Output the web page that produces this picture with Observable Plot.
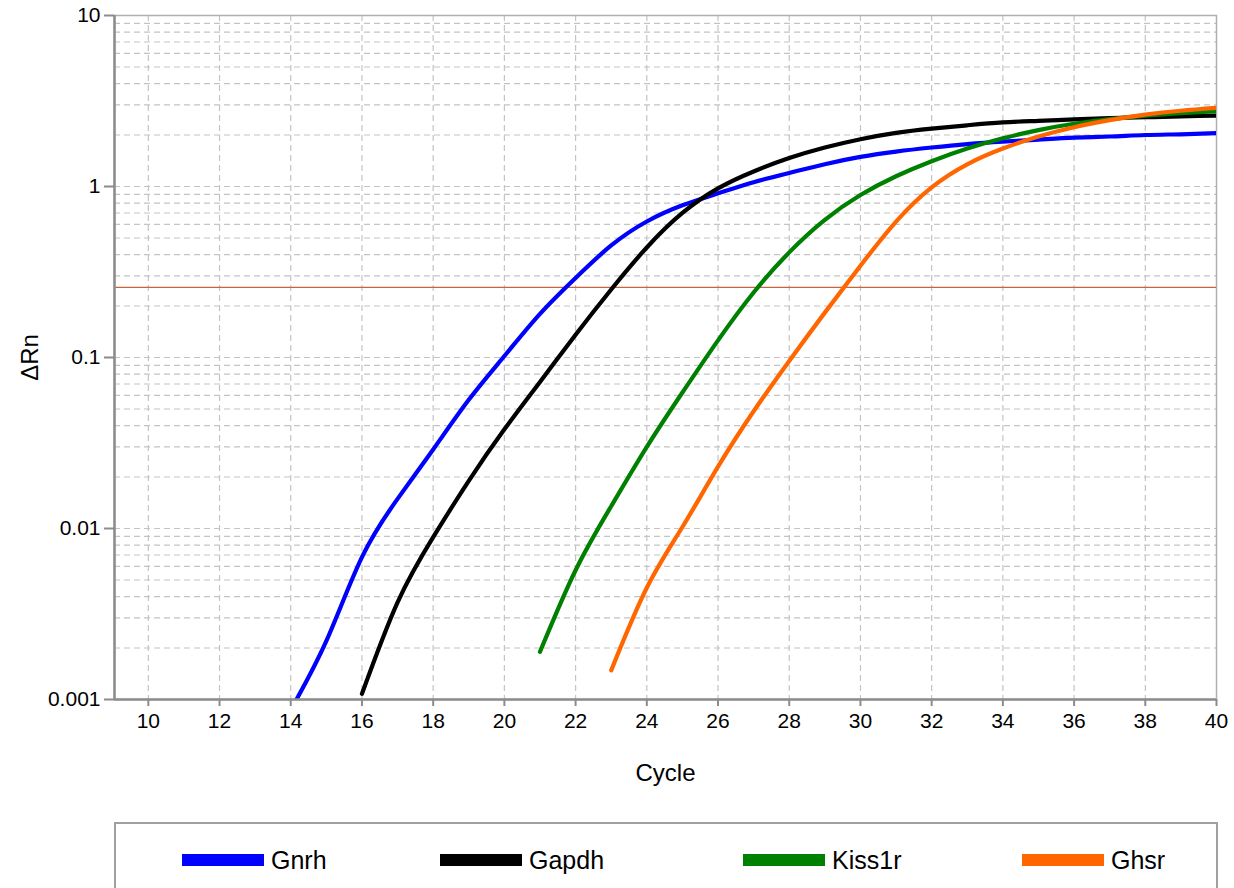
<!DOCTYPE html>
<html><head><meta charset="utf-8">
<script src="https://cdn.jsdelivr.net/npm/d3@7"></script>
<script src="https://cdn.jsdelivr.net/npm/@observablehq/plot@0.6"></script>
<style>
body{margin:0;background:#fff;font-family:"Liberation Sans",Arial,sans-serif;}
#wrap{position:relative;width:1234px;height:888px;overflow:hidden;background:#fff;}
#legend{position:absolute;left:114px;top:822px;width:1104px;height:90px;border:2px solid #a0a0a0;box-sizing:border-box;}
.item{position:absolute;top:22px;height:28px;display:flex;align-items:center;font-size:25px;color:#000;}
.sw{width:82px;height:12px;margin-right:7px;}
</style></head><body>
<div id="wrap"><div id="chart"></div><div id="legend"></div></div>
<script>
// ---- data ----
const seriesNames = ["Gnrh", "Gapdh", "Kiss1r", "Ghsr"];
const seriesColors = ["#0000ff", "#000000", "#008000", "#ff6600"];
const startCycles = [14, 16, 21, 23];
const gnrh = [0.00087, 0.0022, 0.0068, 0.0149, 0.029, 0.0566, 0.102, 0.180, 0.292, 0.452, 0.624, 0.776, 0.912, 1.06, 1.20, 1.35, 1.49, 1.60, 1.69, 1.77, 1.83, 1.88, 1.93, 1.96, 2.00, 2.02, 2.05];
const gapdh = [0.00108, 0.0037, 0.0089, 0.019, 0.038, 0.072, 0.136, 0.25, 0.44, 0.70, 0.975, 1.224, 1.466, 1.69, 1.89, 2.06, 2.18, 2.28, 2.37, 2.42, 2.47, 2.51, 2.54, 2.57, 2.60];
const kiss1r = [0.0019, 0.0057, 0.0135, 0.030, 0.0624, 0.126, 0.240, 0.412, 0.638, 0.891, 1.148, 1.406, 1.667, 1.914, 2.138, 2.328, 2.477, 2.594, 2.685, 2.754];
const ghsr = [0.00148, 0.0045, 0.0102, 0.0230, 0.0485, 0.0955, 0.183, 0.344, 0.624, 0.989, 1.349, 1.667, 1.959, 2.223, 2.443, 2.630, 2.773, 2.884];
const threshold = 0.257;
const xTicks = [10, 12, 14, 16, 18, 20, 22, 24, 26, 28, 30, 32, 34, 36, 38, 40];
const yTicks = [0.001, 0.01, 0.1, 1, 10];
const yTickLabels = ["0.001", "0.01", "0.1", "1", "10"];
const xLabel = "Cycle";
const yLabel = "\u0394Rn";

// ---- build table ----
const allValues = [gnrh, gapdh, kiss1r, ghsr];
const rows = [];
allValues.forEach((vals, i) => {
  vals.forEach((v, j) => rows.push({series: seriesNames[i], cycle: startCycles[i] + j, value: v}));
});

const xDomain = [9.05, 40];
const yDomain = [0.001, 10];
const minorY = d3.scaleLog().domain(yDomain).ticks().filter(t => t < 10);
const gridX = xTicks.filter(t => t < 40);

const chart = Plot.plot({
  width: 1234,
  height: 800,
  marginLeft: 114,
  marginRight: 18,
  marginTop: 15,
  marginBottom: 101,
  style: {fontFamily: "'Liberation Sans', Arial, sans-serif", fontSize: "21px", color: "#000", background: "#fff"},
  x: {domain: xDomain},
  y: {type: "log", domain: yDomain},
  color: {domain: seriesNames, range: seriesColors},
  marks: [
    Plot.ruleY(minorY, {stroke: "#c4c4c4", strokeWidth: 1.2, strokeDasharray: "6,4"}),
    Plot.ruleX(gridX, {stroke: "#c4c4c4", strokeWidth: 1.2, strokeDasharray: "6,4"}),
    Plot.frame({stroke: "#b0b0b0", strokeWidth: 1.5}),
    Plot.ruleY([threshold], {stroke: "#c8643c", strokeWidth: 1.2}),
    Plot.line(rows, {x: "cycle", y: "value", z: "series", stroke: "series", strokeWidth: 4.2, curve: "natural", clip: true, strokeLinecap: "round"}),
    Plot.ruleX([xDomain[0]], {stroke: "#8c8c8c", strokeWidth: 2.5}),
    Plot.ruleY([yDomain[0]], {stroke: "#8c8c8c", strokeWidth: 2.5}),
    Plot.axisY(yTicks, {tickFormat: d => yTickLabels[yTicks.indexOf(d)], tickSize: 10, tickPadding: 4, stroke: "#8c8c8c", strokeWidth: 2, fill: "#000", label: null, fontSize: 21}),
    Plot.axisX(xTicks, {tickFormat: d => String(d), tickSize: 7, tickPadding: 7, stroke: "#8c8c8c", strokeWidth: 2, fill: "#000", label: null, fontSize: 21}),
    Plot.text([xLabel], {frameAnchor: "bottom", dy: 74, lineAnchor: "middle", textAnchor: "middle", text: d => d, fontSize: 24, fill: "#000"}),
    Plot.text([yLabel], {frameAnchor: "left", dx: -84, rotate: -90, textAnchor: "middle", lineAnchor: "middle", text: d => d, fontSize: 24, fill: "#000"})
  ]
});
document.getElementById("chart").appendChild(chart);

// ---- legend ----
const legend = document.getElementById("legend");
const legendX = [66, 324, 627, 906];
seriesNames.forEach((name, i) => {
  const item = document.createElement("div");
  item.className = "item";
  item.style.left = legendX[i] + "px";
  const sw = document.createElement("div");
  sw.className = "sw";
  sw.style.background = seriesColors[i];
  const lab = document.createElement("span");
  lab.textContent = name;
  item.appendChild(sw);
  item.appendChild(lab);
  legend.appendChild(item);
});
</script>
</body></html>
